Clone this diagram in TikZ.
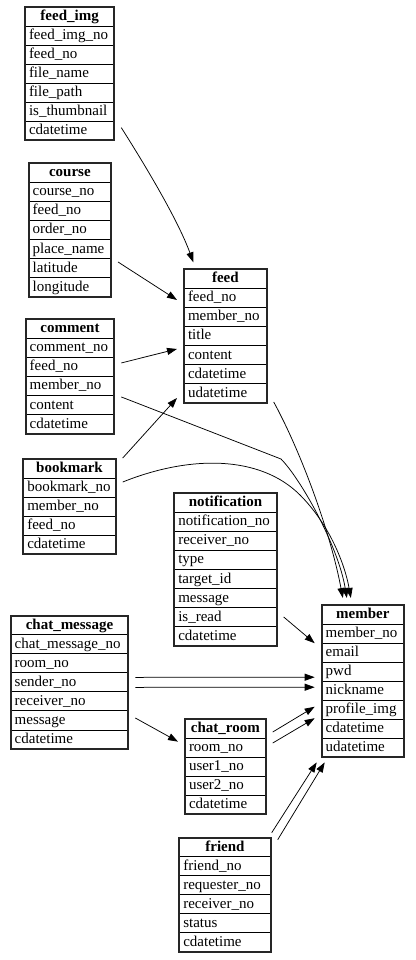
\documentclass[tikz,border=0pt]{standalone}
\usepackage{fontspec}
\setmainfont{Liberation Serif}
\usetikzlibrary{arrows.meta}

\newcommand{\dbtable}[7]{%
  \pgfmathsetmacro\tblw{#4-8}
  \node [tbltitle, text width=\tblw pt, anchor=north west] (#1-h) at (#2,#3) {#6};
  \foreach \fld [count=\i] in {#7} {
    \node [tblrow, text width=\tblw pt, anchor=north west] (#1-\i) at (#2,{#3+\i*19.05}) {\fld};
  }
  \node [tblframe, minimum width=#4pt, minimum height={#5*19.05pt}] (#1) at ({#2+#4/2},{#3+#5*9.525}) {};
}

\begin{document}
\begin{tikzpicture}[x=1pt, y=-1pt,
    tblrow/.style={draw, line width=1pt, inner xsep=4pt, inner ysep=0pt, outer sep=0pt,
      minimum height=19.05pt, text height=11pt, text depth=3pt, align=left,
      font=\fontsize{15}{17}\selectfont},
    tbltitle/.style={tblrow, align=center, font=\fontsize{15}{17}\selectfont\bfseries},
    tblframe/.style={draw, black!85, line width=1.9pt, inner sep=0pt, outer sep=7pt}]
  \useasboundingbox [fill=white] (0,0) rectangle (415,960);

  \dbtable{feedimg}{25}{7}{89.3}{7}{feed\_img}{feed\_img\_no, feed\_no, file\_name, file\_path, is\_thumbnail, cdatetime}
  \dbtable{course}{28.7}{163.3}{82.3}{7}{course}{course\_no, feed\_no, order\_no, place\_name, latitude, longitude}
  \dbtable{feed}{184}{269.3}{82.7}{7}{feed}{feed\_no, member\_no, title, content, cdatetime, udatetime}
  \dbtable{comment}{25.7}{319.3}{88.6}{6}{comment}{comment\_no, feed\_no, member\_no, content, cdatetime}
  \dbtable{bookmark}{23.3}{459}{92.4}{5}{bookmark}{bookmark\_no, member\_no, feed\_no, cdatetime}
  \dbtable{notif}{174.3}{493.3}{102.4}{8}{notification}{notification\_no, receiver\_no, type, target\_id, message, is\_read, cdatetime}
  \dbtable{member}{321.7}{605}{82.3}{8}{member}{member\_no, email, pwd, nickname, profile\_img, cdatetime, udatetime}
  \dbtable{chatmsg}{10.7}{615.7}{117.6}{7}{chat\_message}{chat\_message\_no, room\_no, sender\_no, receiver\_no, message, cdatetime}
  \dbtable{chatroom}{185}{719}{80.7}{5}{chat\_room}{room\_no, user1\_no, user2\_no, cdatetime}
  \dbtable{friend}{179.3}{837.7}{91.4}{6}{friend}{friend\_no, requester\_no, receiver\_no, status, cdatetime}

  \begin{scope}[->, >={Triangle[length=10pt, width=7pt]}, line width=0.75pt]
    \draw ([shift={(0,54)}]feedimg.east) .. controls (145,165) and (178,220) .. ([shift={(-32,0)}]feed.north);
    \draw ([shift={(0,32)}]course.east) -- ([shift={(0,-36)}]feed.west);
    \draw ([shift={(0,-13.5)}]comment.east) -- ([shift={(0,13)}]feed.west);
    \draw ([shift={(0,-48.6)}]bookmark.east) -- ([shift={(0,62)}]feed.west);

    \draw ([shift={(0,66)}]feed.east) .. controls (300,450) and (330,530) .. ([shift={(-20,0)}]member.north);
    \draw ([shift={(0,20.5)}]comment.east) -- (281,459) .. controls (300,478) and (338,545) .. ([shift={(-16,0)}]member.north);
    \draw ([shift={(0,-24.6)}]bookmark.east) .. controls (190,455) and (260,455) .. (300,495)
      .. controls (330,525) and (345,565) .. ([shift={(-12,0)}]member.north);
    \draw ([shift={(0,47.5)}]notif.east) -- ([shift={(0,-38)}]member.west);

    \draw ([shift={(0,-5)}]chatmsg.east) -- ([shift={(0,-4)}]member.west);
    \draw ([shift={(0,5)}]chatmsg.east) -- ([shift={(0,6)}]member.west);
    \draw ([shift={(0,35.6)}]chatmsg.east) -- ([shift={(0,-25)}]chatroom.west);
    \draw ([shift={(0,-34.6)}]chatroom.east) -- ([shift={(0,25.5)}]member.west);
    \draw ([shift={(0,-23.6)}]chatroom.east) -- ([shift={(0,37)}]member.west);

    \draw ([shift={(-6,2)}]friend.north east) -- ([shift={(2,-2)}]member.south west);
    \draw ([shift={(0,9)}]friend.north east) -- ([shift={(10,-2)}]member.south west);
  \end{scope}
\end{tikzpicture}
\end{document}
